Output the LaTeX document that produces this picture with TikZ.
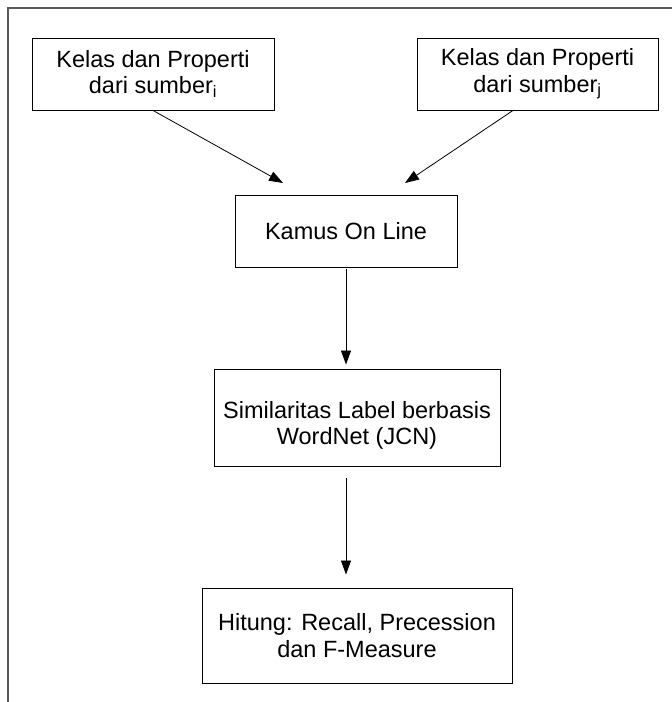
\documentclass[tikz,border=0pt]{standalone}
\usepackage{fontspec}
\setmainfont{Liberation Sans}
\usetikzlibrary{arrows.meta,calc}
\begin{document}
\begin{tikzpicture}[x=1pt,y=-1pt,
  boxfont/.style={font=\fontsize{23.5}{26.5}\selectfont},
  stepbox/.style={draw=black,line width=0.9pt,rectangle,inner sep=0pt,
    align=center,boxfont},
  flow/.style={draw=black,line width=0.8pt,-{Triangle[length=14pt,width=10pt]}},
  frame/.style={draw=black!65,line width=1.6pt}]
  \useasboundingbox (0,0) rectangle (672,702);
  % outer frame (top and left edges)
  \draw[frame] (8,702) -- (8,8) -- (672,8);

  % process boxes
  \node[stepbox,minimum width=242pt,minimum height=72pt] (src1) at (153,74)
    {Kelas dan Properti\\dari sumber\textsubscript{i}};
  \node[stepbox,minimum width=241pt,minimum height=72pt] (src2) at (537.5,74)
    {Kelas dan Properti\\dari sumber\textsubscript{j}};
  \node[stepbox,minimum width=222pt,minimum height=72pt] (dict) at (346,231)
    {Kamus On Line};
  \node[stepbox,minimum width=286pt,minimum height=97pt,
    label={[boxfont,align=center,yshift=-8pt]center:Similaritas Label berbasis\\WordNet (JCN)}]
    (sim) at (357,417.5) {};
  \node[stepbox,minimum width=310pt,minimum height=95pt] (eval) at (357,635.5)
    {Hitung: Recall, Precession\\dan F-Measure};

  % arrow end points
  \coordinate (in1) at (283,183);
  \coordinate (in2) at (405,183);
  \coordinate (out2) at ($(src2.south)+(-24.5,0)$);

  % connectors
  \draw[flow] (src1.south) -- (in1);
  \draw[flow] (out2) -- (in2);
  \draw[flow,shorten <=2pt,shorten >=4pt] (dict.south) -- (dict.south |- sim.north);
  \draw[flow,shorten <=12pt,shorten >=13pt] (dict.south |- sim.south) -- (dict.south |- eval.north);
\end{tikzpicture}
\end{document}
